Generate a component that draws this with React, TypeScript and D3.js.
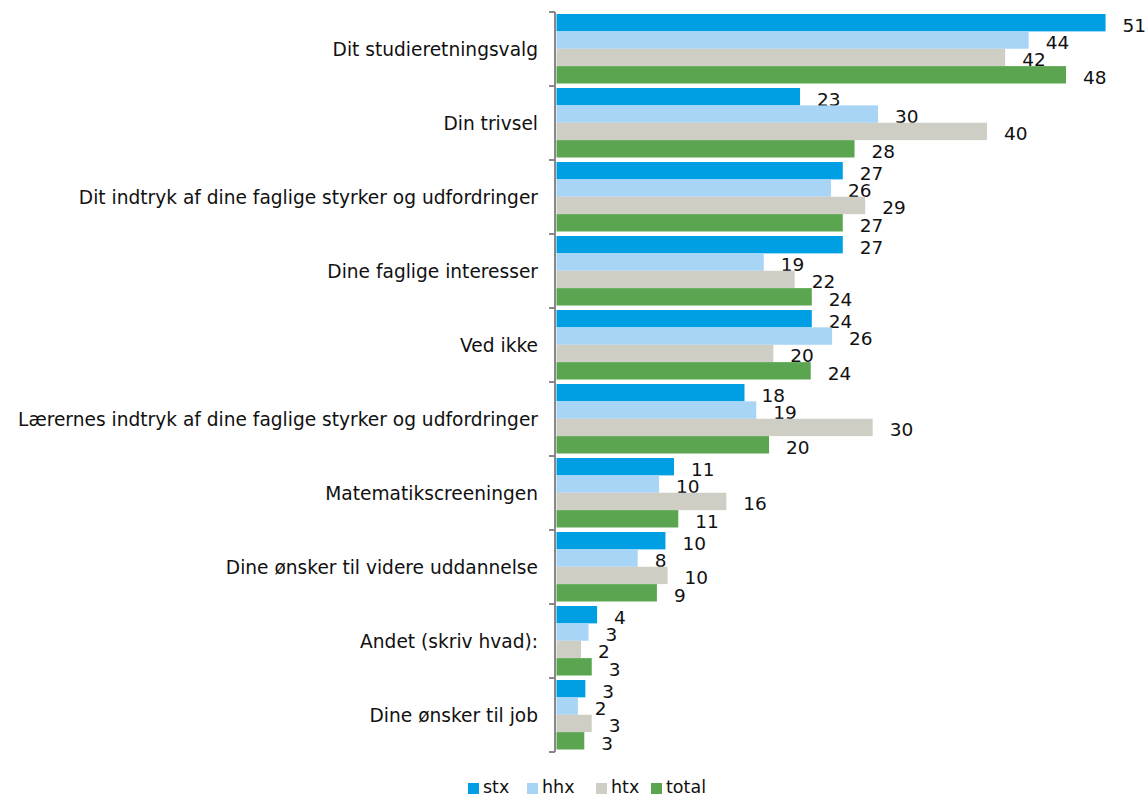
import React from 'react'
import {scaleBand, scaleLinear} from 'd3'

const width = 1145
const height = 796

const categories = [
    'Dit studieretningsvalg',
    'Din trivsel',
    'Dit indtryk af dine faglige styrker og udfordringer',
    'Dine faglige interesser',
    'Ved ikke',
    'Lærernes indtryk af dine faglige styrker og udfordringer',
    'Matematikscreeningen',
    'Dine ønsker til videre uddannelse',
    'Andet (skriv hvad):',
    'Dine ønsker til job',
]

const seriesNames = ['stx', 'hhx', 'htx', 'total']
const seriesColors = ['#009fe3', '#a8d4f5', '#cfcec5', '#5ba551']

const stx = [51.4, 22.8, 26.8, 26.8, 23.9, 17.6, 11.0, 10.2, 3.8, 2.7]
const hhx = [44.2, 30.1, 25.7, 19.4, 25.8, 18.7, 9.6, 7.6, 3.0, 2.0]
const htx = [42.0, 40.3, 28.9, 22.3, 20.3, 29.6, 15.9, 10.4, 2.3, 3.3]
const total = [47.7, 27.9, 26.8, 23.9, 23.8, 19.9, 11.4, 9.4, 3.3, 2.6]

const series = [stx, hhx, htx, total]

export default function App() {
    const xScale = scaleLinear().domain([0, 55]).range([556.5, 1144])
    const yScale = scaleBand().domain(categories).range([12, 752])
    const inner = scaleBand().domain(seriesNames).range([2, 71.5])
    const x0 = xScale(0)
    const font = '"DejaVu Sans", Verdana, sans-serif'

    return (
        <div style={{position: 'absolute', left: 0, top: 0}}>
            <svg width={width} height={height} style={{display: 'block'}}>
                {categories.map((c, i) => {
                    const y = yScale(c)!
                    return (
                        <g key={c}>
                            {series.map((s, j) => {
                                const by = y + inner(seriesNames[j])!
                                const bh = inner.bandwidth()
                                return (
                                    <g key={j}>
                                        <rect x={x0} y={by} width={xScale(s[i]) - x0} height={bh}
                                              fill={seriesColors[j]} />
                                        <text x={xScale(s[i]) + 17} y={by + bh / 2 + 9}
                                              fontFamily={font} fontSize={18.5} fill="#111">
                                            {Math.round(s[i])}
                                        </text>
                                    </g>
                                )
                            })}
                            <text x={538} y={y + yScale.bandwidth() / 2} textAnchor="end"
                                  dominantBaseline="central" fontFamily={font} fontSize={18.6} fill="#111">
                                {c}
                            </text>
                        </g>
                    )
                })}
                {/* axis */}
                <line x1={555} x2={555} y1={12} y2={752} stroke="#888" strokeWidth={2} />
                {[...categories.map(c => yScale(c)!), 752].map((t, i) => (
                    <line key={i} x1={549} x2={555} y1={t} y2={t} stroke="#888" strokeWidth={2} />
                ))}
                {/* legend */}
                {seriesNames.map((n, j) => {
                    const lx = [468, 527, 596, 651][j]
                    return (
                        <g key={n}>
                            <rect x={lx} y={783} width={11} height={11} fill={seriesColors[j]} />
                            <text x={lx + 15} y={793} fontFamily={font} fontSize={17.5} fill="#111">{n}</text>
                        </g>
                    )
                })}
            </svg>
        </div>
    )
}
